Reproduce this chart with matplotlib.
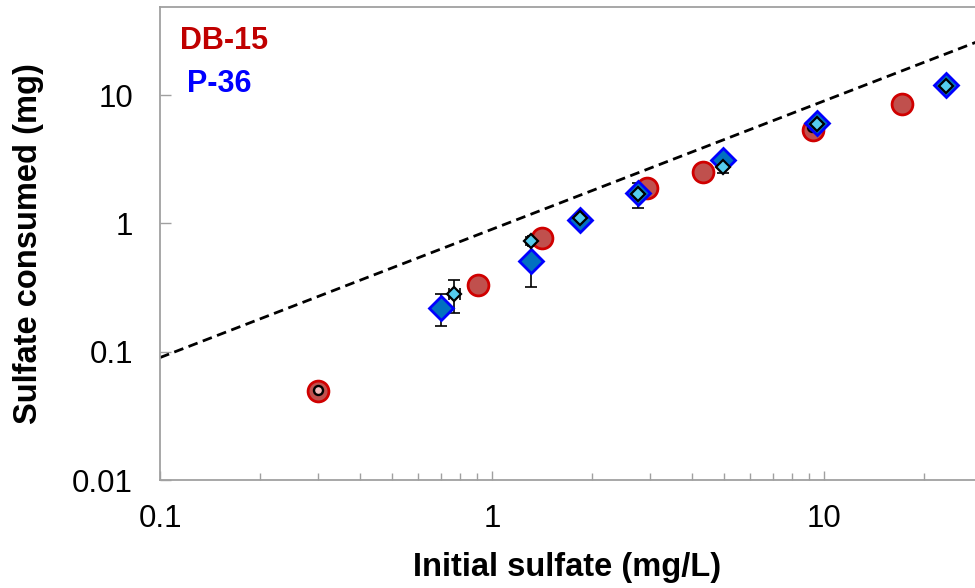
import matplotlib
matplotlib.use("Agg")
import matplotlib.pyplot as plt
from matplotlib.ticker import FixedLocator, FuncFormatter, LogLocator, NullLocator

plt.rcParams["font.family"] = ["Liberation Sans", "DejaVu Sans"]

# DB-15, large circles
db_x = [0.30, 0.91, 1.41, 2.93, 4.32, 9.27, 17.2]
db_y = [0.049, 0.33, 0.77, 1.89, 2.52, 5.35, 8.5]
# DB-15, small circles
db2_x = [0.30, 9.2]
db2_y = [0.050, 5.6]
# P-36, large diamonds
p_x = [0.70, 1.31, 1.84, 2.75, 4.97, 9.52, 23.3]
p_y = [0.22, 0.51, 1.06, 1.73, 3.12, 6.06, 12.0]
p_yerr = [0.06, 0.19, 0, 0, 0, 0, 0]
# P-36, small diamonds
p2_x = [0.77, 1.31, 1.84, 2.75, 4.97, 9.52, 23.3]
p2_y = [0.28, 0.73, 1.10, 1.70, 2.75, 6.0, 11.8]
p2_yerr = [0.08, 0.05, 0, 0.38, 0.28, 0, 0]
p2_xerr = [0.03, 0.03, 0, 0, 0, 0, 0]
# dashed reference line
line_x = [0.1, 30]
line_y = [0.09, 27]

fig = plt.figure(figsize=(9.75, 5.88), dpi=100)
ax = fig.add_axes([160 / 975, 108 / 588, 815 / 975, 473 / 588])
ax.set_xscale("log")
ax.set_yscale("log")

ax.plot(line_x, line_y, color="black", lw=2, dashes=(3.5, 2), zorder=2)

ax.errorbar(p_x, p_y, yerr=p_yerr, fmt="none", ecolor="black", elinewidth=1.2,
            capsize=4.5, capthick=1.2, zorder=3)
ax.errorbar(p2_x, p2_y, yerr=p2_yerr, xerr=p2_xerr, fmt="none", ecolor="black",
            elinewidth=1.2, capsize=4.5, capthick=1.2, zorder=3)

ax.plot(db_x, db_y, "o", ms=15, mfc="#c0504d", mec="#d00000", mew=2, zorder=4)
ax.plot(db2_x, db2_y, "o", ms=6.5, mfc="#f2bcbc", mec="black", mew=1.7, zorder=5)
ax.plot(p_x, p_y, "D", ms=12.5, mfc="#0070c0", mec="#0000ff", mew=2, zorder=6)
ax.plot(p2_x, p2_y, "D", ms=7, mfc="#55ccee", mec="black", mew=1.6, zorder=7)

ax.set_xlim(0.1, 28.5)
ax.set_ylim(0.01, 48.6)

ax.xaxis.set_major_locator(FixedLocator([0.1, 1, 10]))
ax.xaxis.set_minor_locator(LogLocator(base=10, subs=range(2, 10)))
ax.yaxis.set_major_locator(FixedLocator([0.01, 0.1, 1, 10]))
ax.yaxis.set_minor_locator(NullLocator())
fmt = FuncFormatter(lambda v, p: f"{v:g}")
ax.xaxis.set_major_formatter(fmt)
ax.yaxis.set_major_formatter(fmt)
ax.xaxis.set_minor_formatter(FuncFormatter(lambda v, p: ""))

ax.tick_params(axis="x", which="major", direction="in", length=6.5, width=1,
               color="#a0a0a0", labelsize=22.5, pad=17.5)
ax.tick_params(axis="x", which="minor", direction="in", length=5, width=1,
               color="#a0a0a0")
ax.tick_params(axis="y", which="major", direction="in", length=7.7, width=1,
               color="#a0a0a0", labelsize=22.5, pad=19.5)

for s in ("left", "bottom", "top"):
    ax.spines[s].set_color("#a0a0a0")
    ax.spines[s].set_linewidth(1.3)
ax.spines["right"].set_visible(False)

ax.set_xlabel("Initial sulfate (mg/L)", fontsize=23.5, fontweight="bold", labelpad=13)
ax.set_ylabel("Sulfate consumed (mg)", fontsize=23.5, fontweight="bold", labelpad=20)

ax.text(0.0245, 0.911, "DB-15", transform=ax.transAxes, color="#c00000",
        fontsize=22, fontweight="bold", ha="left", va="baseline")
ax.text(0.033, 0.820, "P-36", transform=ax.transAxes, color="#0000ff",
        fontsize=22, fontweight="bold", ha="left", va="baseline")

fig.savefig("out.png", dpi=100, facecolor="white")
